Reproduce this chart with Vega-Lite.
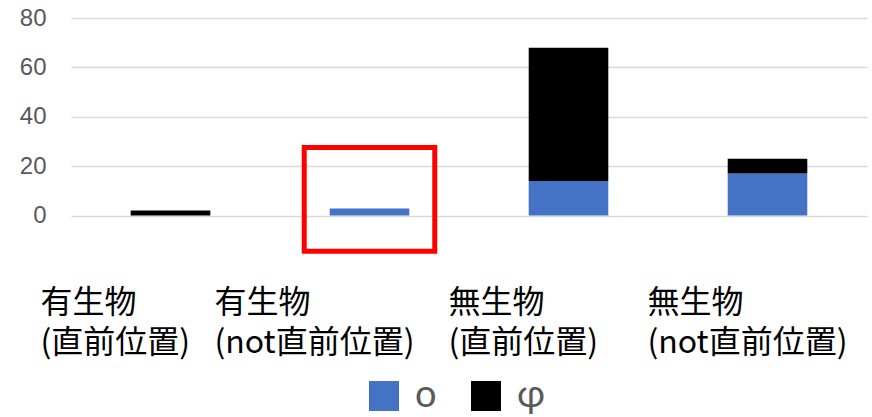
{
  "$schema": "https://vega.github.io/schema/vega-lite/v6.json",
  "width": 796,
  "height": 237,
  "autosize": {"type": "none"},
  "padding": {"left": 71, "top": 18, "right": 5, "bottom": 162},
  "background": "white",
  "config": {"view": {"stroke": null}, "font": "Noto Sans CJK JP"},
  "data": {
    "values": [
      {"cat": "有生物|(直前位置)", "series": "o", "value": 0},
      {"cat": "有生物|(直前位置)", "series": "φ", "value": 2},
      {"cat": "有生物|(not直前位置)", "series": "o", "value": 2.8},
      {"cat": "有生物|(not直前位置)", "series": "φ", "value": 0},
      {"cat": "無生物|(直前位置)", "series": "o", "value": 14},
      {"cat": "無生物|(直前位置)", "series": "φ", "value": 54},
      {"cat": "無生物|(not直前位置)", "series": "o", "value": 17},
      {"cat": "無生物|(not直前位置)", "series": "φ", "value": 6}
    ]
  },
  "encoding": {
    "x": {
      "field": "cat",
      "type": "nominal",
      "sort": ["有生物|(直前位置)", "有生物|(not直前位置)", "無生物|(直前位置)", "無生物|(not直前位置)"],
      "scale": {"paddingInner": 0.6, "paddingOuter": 0.3},
      "axis": {
        "title": null,
        "domain": false,
        "ticks": false,
        "grid": false,
        "labelExpr": "split(datum.label, '|')",
        "labelFont": "Noto Sans CJK JP",
        "labelFontSize": 32,
        "labelColor": "#000000",
        "labelAlign": "left",
        "labelBaseline": "top",
        "labelLineHeight": 40,
        "labelPadding": 32,
        "labelLimit": 0,
        "labelOverlap": false,
        "labelAngle": 0,
        "labelOffset": {
          "condition": [
            {"test": "datum.value == '有生物|(直前位置)'", "value": -130},
            {"test": "datum.value == '有生物|(not直前位置)'", "value": -155}
          ],
          "value": -120
        }
      }
    }
  },
  "layer": [
    {
      "mark": {"type": "bar"},
      "encoding": {
        "y": {
          "field": "value",
          "type": "quantitative",
          "stack": "zero",
          "scale": {"domain": [-16, 80], "nice": false, "zero": false},
          "axis": {
            "title": null,
            "values": [0, 20, 40, 60, 80],
            "domain": false,
            "ticks": false,
            "labelFont": "Liberation Sans",
            "labelFontSize": 24,
            "labelColor": "#595959",
            "labelPadding": 25,
            "gridColor": "#d9d9d9",
            "gridWidth": 1.5
          }
        },
        "color": {
          "field": "series",
          "type": "nominal",
          "scale": {"domain": ["o", "φ"], "range": ["#4472C4", "#000000"]},
          "legend": {
            "title": null,
            "orient": "none",
            "direction": "horizontal",
            "legendX": 294,
            "legendY": 359,
            "padding": 0,
            "symbolType": "square",
            "symbolSize": 900,
            "symbolStrokeWidth": 0,
            "symbolOpacity": 1,
            "labelFont": "Lato",
            "labelFontSize": 38,
            "labelColor": "#595959",
            "labelOffset": 12,
            "columnPadding": 30
          }
        },
        "order": {"field": "series", "type": "ordinal", "sort": "ascending"}
      }
    },
    {
      "data": {"values": [{"cat": "有生物|(not直前位置)", "lo": -14.5, "hi": 27.5}]},
      "mark": {"type": "bar", "fill": "transparent", "stroke": "#FF0000", "strokeWidth": 5, "width": {"band": 1.64}},
      "encoding": {
        "y": {"field": "lo", "type": "quantitative"},
        "y2": {"field": "hi"}
      }
    }
  ]
}
